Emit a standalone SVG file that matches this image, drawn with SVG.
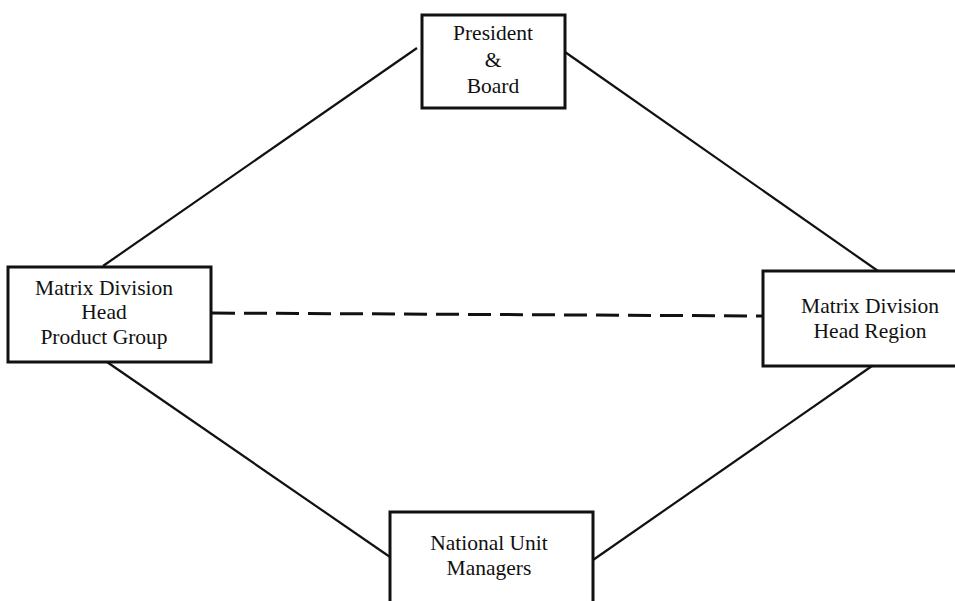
<svg xmlns="http://www.w3.org/2000/svg" width="955" height="601" viewBox="0 0 955 601">
  <style>
    .box { fill: #fff; stroke: #111; stroke-width: 3; }
    .lbl { font-family: "Liberation Serif", "Times New Roman", serif; font-size: 21.5px; fill: #111; text-anchor: middle; }
    .link { stroke: #111; stroke-width: 2.2; fill: none; }
    .dashed { stroke-dasharray: 23 9; stroke-width: 3; }
  </style>
  <rect width="955" height="601" fill="#fff"/>

  <!-- connectors -->
  <g id="connectors">
    <line class="link" x1="103" y1="266" x2="417" y2="48"/>
    <line class="link" x1="565" y1="52" x2="878" y2="271"/>
    <line class="link" x1="107" y1="362" x2="390" y2="557"/>
    <line class="link" x1="593" y1="560" x2="872" y2="366"/>
    <line class="link dashed" x1="212" y1="313" x2="763" y2="316"/>
  </g>

  <!-- top: president and board -->
  <g id="president">
    <rect class="box" x="422" y="15" width="143" height="93"/>
    <text class="lbl" x="493" y="40">President</text>
    <text class="lbl" x="493" y="67">&amp;</text>
    <text class="lbl" x="493" y="93">Board</text>
  </g>

  <!-- left: product group division head -->
  <g id="product-head">
    <rect class="box" x="8" y="267" width="203" height="95"/>
    <text class="lbl" x="104" y="295">Matrix Division</text>
    <text class="lbl" x="104" y="319">Head</text>
    <text class="lbl" x="104" y="344">Product Group</text>
  </g>

  <!-- right: region division head -->
  <g id="region-head">
    <rect class="box" x="763" y="271" width="200" height="95"/>
    <text class="lbl" x="870" y="313">Matrix Division</text>
    <text class="lbl" x="870" y="338">Head Region</text>
  </g>

  <!-- bottom: national unit managers -->
  <g id="unit-managers">
    <rect class="box" x="390" y="512" width="203" height="100"/>
    <text class="lbl" x="489" y="550">National Unit</text>
    <text class="lbl" x="489" y="575">Managers</text>
  </g>
</svg>
